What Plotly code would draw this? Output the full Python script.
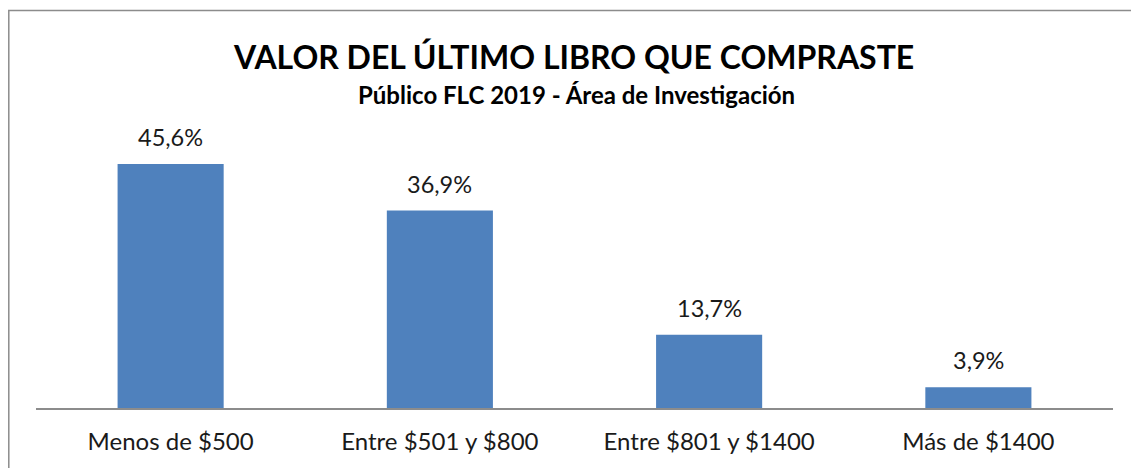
import plotly.graph_objects as go

categories = ["Menos de $500", "Entre $501 y $800", "Entre $801 y $1400", "Más de $1400"]
values = [45.6, 36.9, 13.7, 3.9]
value_labels = ["45,6%", "36,9%", "13,7%", "3,9%"]
title_text = "VALOR DEL ÚLTIMO LIBRO QUE COMPRASTE"
subtitle_text = "Público FLC 2019 - Área de Investigación"

FONT = "Lato"
W, H = 1131, 468
ml, mt = 36, 130
mr = W - 1113
mb = H - 408
pw, ph = W - ml - mr, H - mt - mb


def px_x(x):
    return (x - ml) / pw


def px_y(y):
    return (H - mb - y) / ph


fig = go.Figure()
fig.add_trace(go.Bar(
    x=categories, y=values,
    marker=dict(color="#4F81BD", line=dict(width=0)),
    width=0.394,
    hoverinfo="skip",
))

annotations = []
for c, v, t in zip(categories, values, value_labels):
    annotations.append(dict(x=c, y=v, xref="x", yref="y", text=t, showarrow=False,
                            yanchor="bottom", yshift=11,
                            font=dict(family=FONT, size=23.5, color="#1a1a1a")))

annotations.append(dict(x=px_x(573), y=px_y(56), xref="paper", yref="paper",
                        text="<b>" + title_text + "</b>", showarrow=False,
                        xanchor="center", yanchor="middle",
                        font=dict(family=FONT, size=32, color="#000000")))
annotations.append(dict(x=px_x(576), y=px_y(95), xref="paper", yref="paper",
                        text="<b>" + subtitle_text + "</b>", showarrow=False,
                        xanchor="center", yanchor="middle",
                        font=dict(family=FONT, size=24, color="#000000")))

fig.update_layout(
    width=W, height=H,
    margin=dict(l=ml, r=mr, t=mt, b=mb, pad=0),
    paper_bgcolor="white", plot_bgcolor="white",
    showlegend=False,
    annotations=annotations,
    shapes=[dict(type="rect", xref="paper", yref="paper",
                 x0=px_x(8.8), x1=px_x(1150),
                 y0=px_y(490), y1=px_y(10.5),
                 line=dict(color="#8c8c8c", width=1.5), fillcolor="rgba(0,0,0,0)", layer="below")],
    xaxis=dict(showline=True, linecolor="#8c8c8c", linewidth=1.5, showgrid=False,
               ticks="", ticklabelstandoff=11,
               tickfont=dict(family=FONT, size=24, color="#1a1a1a")),
    yaxis=dict(range=[0, ph / 5.35], visible=False, showgrid=False, zeroline=False),
)

fig.write_html(
    "out.html",
    config={"displayModeBar": False},
    post_script="document.body.style.margin='0';document.body.style.padding='0';"
                "document.body.style.overflow='hidden';"
                "document.documentElement.style.overflow='hidden';",
)
